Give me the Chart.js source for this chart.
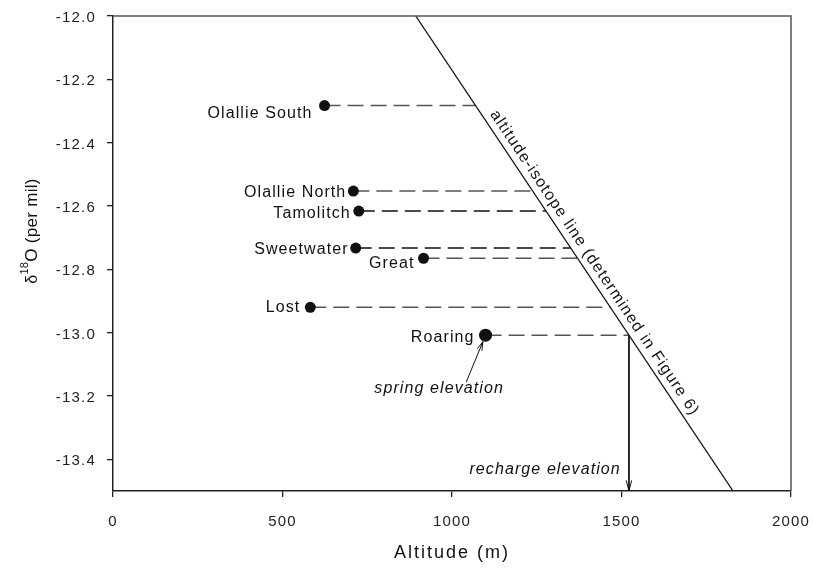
<!DOCTYPE html>
<html>
<head>
<meta charset="utf-8">
<script src="https://cdn.jsdelivr.net/npm/chart.js@4.4.1/dist/chart.umd.min.js"></script>
<style>
  body { margin: 0; background: #fff; }
  #wrap { width: 813px; height: 569px; }
</style>
</head>
<body>
<div id="wrap"><canvas id="chart" width="813" height="569"></canvas></div>
<script>
// ---------------------------
// Data
// ---------------------------
const springNames = ["Olallie South", "Olallie North", "Tamolitch", "Sweetwater", "Great", "Lost", "Roaring"];
const springAlt = [624, 709, 725, 716, 916, 582, 1099];
const springD18O = [-12.283, -12.553, -12.616, -12.733, -12.765, -12.920, -13.008];

// altitude-isotope line end points
const lineAlt = [893, 1829];
const lineD18O = [-12.0, -13.5];

const xTicks = [0, 500, 1000, 1500, 2000];
const yTicks = [-12.0, -12.2, -12.4, -12.6, -12.8, -13.0, -13.2, -13.4];

// ---------------------------
// Styling
// ---------------------------
const FONT = '"Liberation Sans", Arial, sans-serif';
const labelOffset = [[-12, 12], [-7, 6], [-8, 7], [-7, 6], [-9, 10], [-10, 5], [-11, 7]];
const connectorColor = ["#555", "#555", "#111", "#111", "#555", "#555", "#555"];
const dotRadius = [5.5, 5.5, 5.5, 5.5, 5.5, 5.5, 6.5];
const roaring = springNames.indexOf("Roaring");

// altitude where a d18O value meets the altitude-isotope line
function rechargeAlt(d) {
  const t = (d - lineD18O[0]) / (lineD18O[1] - lineD18O[0]);
  return lineAlt[0] + t * (lineAlt[1] - lineAlt[0]);
}

const datasets = [];
datasets.push({
  label: "springs",
  data: springAlt.map((a, i) => ({ x: a, y: springD18O[i] })),
  backgroundColor: "#111",
  borderWidth: 0,
  pointRadius: dotRadius,
  pointHoverRadius: dotRadius,
  order: 0
});
datasets.push({
  label: "altitude-isotope line",
  data: lineAlt.map((a, i) => ({ x: a, y: lineD18O[i] })),
  showLine: true,
  borderColor: "#111",
  borderWidth: 1.3,
  pointRadius: 0,
  order: 1
});
springAlt.forEach((a, i) => {
  datasets.push({
    label: springNames[i] + " connector",
    data: [{ x: a, y: springD18O[i] }, { x: rechargeAlt(springD18O[i]), y: springD18O[i] }],
    showLine: true,
    borderColor: connectorColor[i],
    borderWidth: 1.5,
    borderDash: [16, 7],
    pointRadius: 0,
    order: 2
  });
});
datasets.push({
  label: "recharge drop",
  data: [
    { x: rechargeAlt(springD18O[roaring]), y: springD18O[roaring] },
    { x: rechargeAlt(springD18O[roaring]), y: lineD18O[1] }
  ],
  showLine: true,
  borderColor: "#111",
  borderWidth: 1,
  pointRadius: 0,
  order: 2
});

function arrowHead(ctx, x1, y1, x2, y2, len, spread) {
  const ang = Math.atan2(y2 - y1, x2 - x1);
  ctx.beginPath();
  ctx.moveTo(x2 - len * Math.cos(ang - spread), y2 - len * Math.sin(ang - spread));
  ctx.lineTo(x2, y2);
  ctx.lineTo(x2 - len * Math.cos(ang + spread), y2 - len * Math.sin(ang + spread));
  ctx.stroke();
}

// keep the plot box where the figure has it
function noOverhang(axis) {
  axis.paddingTop = 0; axis.paddingBottom = 0;
  axis.paddingLeft = 0; axis.paddingRight = 0;
}

const annotations = {
  id: "annotations",
  beforeDraw(chart) {
    chart.ctx.letterSpacing = "1.2px";
  },
  afterDatasetsDraw(chart) {
    const ctx = chart.ctx;
    const xs = chart.scales.x, ys = chart.scales.y;
    const px = v => xs.getPixelForValue(v);
    const py = v => ys.getPixelForValue(v);
    const area = chart.chartArea;
    ctx.save();

    // top and right frame
    ctx.strokeStyle = "#555";
    ctx.lineWidth = 1.5;
    ctx.beginPath();
    ctx.moveTo(area.left, area.top);
    ctx.lineTo(area.right, area.top);
    ctx.lineTo(area.right, area.bottom);
    ctx.stroke();

    // spring labels
    ctx.fillStyle = "#111";
    ctx.font = "16px " + FONT;
    ctx.letterSpacing = "1.1px";
    ctx.textAlign = "right";
    ctx.textBaseline = "alphabetic";
    springNames.forEach((name, i) => {
      ctx.fillText(name, px(springAlt[i]) + labelOffset[i][0], py(springD18O[i]) + labelOffset[i][1]);
    });

    // label along the altitude-isotope line
    const x0 = px(lineAlt[0]), y0 = py(lineD18O[0]);
    const x1 = px(lineAlt[1]), y1 = py(lineD18O[1]);
    const ang = Math.atan2(y1 - y0, x1 - x0);
    const mid = -12.80;
    ctx.save();
    ctx.translate(px(rechargeAlt(mid)), py(mid));
    ctx.rotate(ang);
    ctx.textAlign = "center";
    ctx.letterSpacing = "1.1px";
    ctx.fillText("altitude-isotope line (determined in Figure 6)", 0, -7);
    ctx.restore();

    // spring elevation note + arrow
    ctx.font = "italic 16px " + FONT;
    ctx.letterSpacing = "1.1px";
    ctx.textAlign = "center";
    ctx.fillText("spring elevation", px(962), py(-13.191));
    const rx = px(springAlt[roaring]), ry = py(springD18O[roaring]);
    const tx = px(1042), ty = py(-13.156);
    const dd = Math.hypot(rx - tx, ry - ty);
    const hx = rx - (rx - tx) / dd * (dotRadius[roaring] + 0.5);
    const hy = ry - (ry - ty) / dd * (dotRadius[roaring] + 0.5);
    ctx.strokeStyle = "#111";
    ctx.lineWidth = 1;
    ctx.beginPath();
    ctx.moveTo(tx, ty);
    ctx.lineTo(hx, hy);
    ctx.stroke();
    arrowHead(ctx, tx, ty, hx, hy, 9, 0.28);

    // recharge elevation note + arrow head
    ctx.textAlign = "right";
    ctx.fillText("recharge elevation", px(1498), py(-13.447));
    const cx = px(rechargeAlt(springD18O[roaring]));
    arrowHead(ctx, cx, py(springD18O[roaring]), cx, py(lineD18O[1]), 11, 0.25);

    // axis titles
    ctx.font = "18px " + FONT;
    ctx.letterSpacing = "2px";
    ctx.textAlign = "center";
    ctx.fillText("Altitude (m)", (area.left + area.right) / 2, 558);

    ctx.save();
    ctx.translate(37, 231);
    ctx.rotate(-Math.PI / 2);
    ctx.letterSpacing = "0.3px";
    ctx.textAlign = "left";
    const f1 = "16px " + FONT, f2 = "11px " + FONT, f3 = "17px " + FONT;
    ctx.font = f1; const w1 = ctx.measureText("\u03b4").width;
    ctx.font = f2; const w2 = ctx.measureText("18").width;
    ctx.font = f3; const w3 = ctx.measureText("O (per mil)").width;
    let sx = -(w1 + w2 + w3) / 2;
    ctx.font = f1; ctx.fillText("\u03b4", sx, 0); sx += w1;
    ctx.font = f2; ctx.fillText("18", sx, -9); sx += w2;
    ctx.font = f3; ctx.fillText("O (per mil)", sx, 0);
    ctx.restore();

    ctx.restore();
  }
};

new Chart(document.getElementById("chart"), {
  type: "scatter",
  data: { datasets: datasets },
  options: {
    responsive: false,
    devicePixelRatio: 1,
    animation: false,
    events: [],
    layout: { padding: { top: 16, right: 22, left: 0, bottom: 0 } },
    plugins: { legend: { display: false }, tooltip: { enabled: false } },
    scales: {
      x: {
        type: "linear",
        min: 0,
        max: 2000,
        afterBuildTicks: axis => { axis.ticks = xTicks.map(v => ({ value: v })); },
        afterFit: axis => { axis.height = 78; noOverhang(axis); },
        grid: { drawOnChartArea: false, tickLength: 6, color: "#222", lineWidth: 1.3 },
        border: { color: "#222", width: 1.5 },
        ticks: { color: "#222", font: { family: FONT, size: 15 }, padding: 16, maxRotation: 0, callback: v => String(v) }
      },
      y: {
        type: "linear",
        min: -13.5,
        max: -12.0,
        afterBuildTicks: axis => { axis.ticks = yTicks.map(v => ({ value: v })); },
        afterFit: axis => { axis.width = 113; noOverhang(axis); },
        grid: { drawOnChartArea: false, tickLength: 6, color: "#222", lineWidth: 1.3 },
        border: { color: "#222", width: 1.5 },
        ticks: { color: "#222", font: { family: FONT, size: 15 }, padding: 11, labelOffset: 2, callback: v => v.toFixed(1) }
      }
    }
  },
  plugins: [annotations]
});
</script>
</body>
</html>
